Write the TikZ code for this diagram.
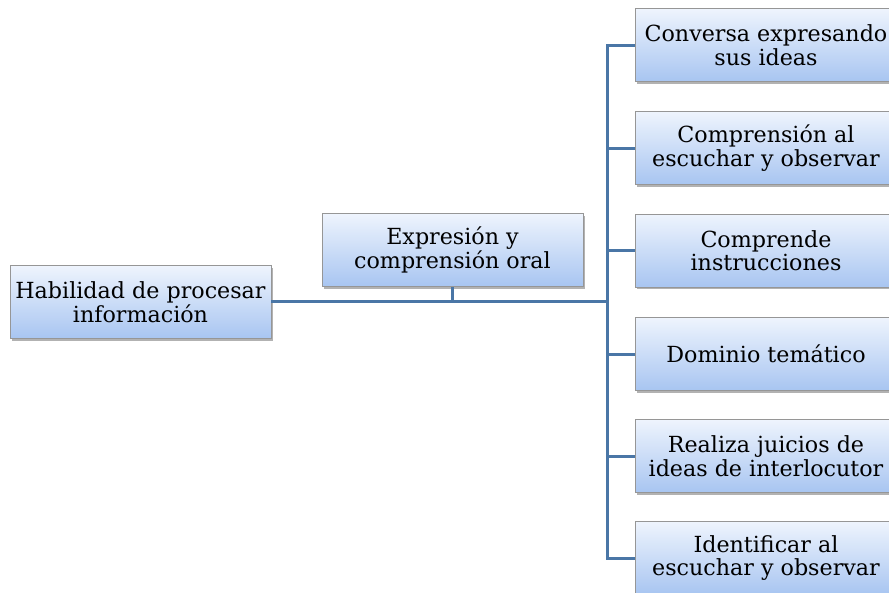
\documentclass[tikz,border=0pt]{standalone}
\usepackage{fontspec}
\setmainfont{DejaVu Serif}
\usetikzlibrary{shadows}
\definecolor{linec}{RGB}{74,118,166}
\definecolor{topc}{RGB}{238,244,253}
\definecolor{botc}{RGB}{168,197,241}
\definecolor{edgec}{RGB}{150,150,150}
\tikzset{
  box/.style={draw=edgec, line width=0.8pt, top color=topc, bottom color=botc,
    minimum width=261pt, minimum height=73pt, align=center, inner sep=1pt,
    font=\fontsize{22.2}{23.5}\selectfont,
    drop shadow={shadow xshift=2pt, shadow yshift=-2pt, fill=black, opacity=0.3}},
  conn/.style={draw=linec, line width=3pt}
}
\begin{document}
\begin{tikzpicture}[x=1pt,y=-1pt]
\clip (0,0) rectangle (889,592);
\useasboundingbox (0,0) rectangle (889,592);
\node[box] (hab) at (140.5,302) {Habilidad de procesar\\información};
\node[box] (exp) at (452.5,250) {Expresión y\\comprensión oral};
\node[box, minimum width=262pt] (r1) at (766,45) {Conversa expresando\\sus ideas};
\node[box, minimum width=262pt] (r2) at (766,148) {Comprensión al\\escuchar y observar};
\node[box, minimum width=262pt] (r3) at (766,250.5) {Comprende\\instrucciones};
\node[box, minimum width=262pt] (r4) at (766,354) {Dominio temático};
\node[box, minimum width=262pt] (r5) at (766,456) {Realiza juicios de\\ideas de interlocutor};
\node[box, minimum width=262pt] (r6) at (766,558) {Identificar al\\escuchar y observar};
\coordinate (j) at (607,301);
\draw[conn] (hab.east |- j) -- (j);
\draw[conn] (exp.south) -- (exp.south |- j);
\foreach \r in {r1,r2,r3,r4,r5,r6} {
  \draw[conn] (\r.west) -| (j);
}
\end{tikzpicture}
\end{document}
